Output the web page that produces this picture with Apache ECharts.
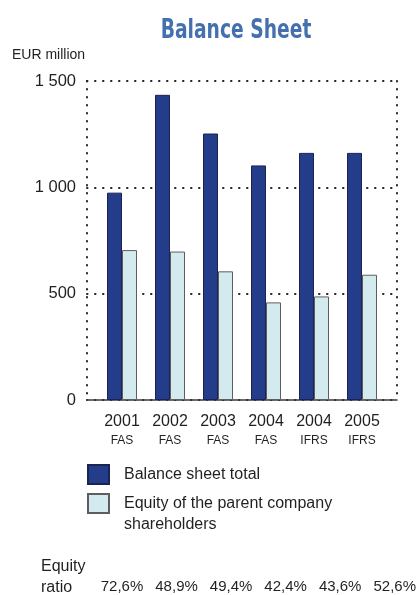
<!DOCTYPE html>
<html>
<head>
<meta charset="utf-8">
<script src="https://cdn.jsdelivr.net/npm/echarts@6/dist/echarts.min.js"></script>
<style>
  html, body { margin: 0; padding: 0; background: #fff; }
  #chart { width: 419px; height: 595px; }
</style>
</head>
<body>
<div id="chart"></div>
<script>
// Balance sheet figures, EUR million
const years = ['2001', '2002', '2003', '2004', '2004', '2005'];
const standards = ['FAS', 'FAS', 'FAS', 'FAS', 'IFRS', 'IFRS'];
const balanceTotal = [975, 1435, 1253, 1103, 1162, 1162];
const parentEquity = [705, 698, 605, 459, 487, 589];
const equityRatio = ['72,6%', '48,9%', '49,4%', '42,4%', '43,6%', '52,6%'];
const yMin = 0, yMax = 1500, yStep = 500;

const FONT = '"Liberation Sans", Arial, sans-serif';
const TEXT = '#231f20';
const categories = years.map((y, i) => y + ' ' + standards[i]);

const dotted = { color: '#222', width: 2, type: [0.5, 7.5], cap: 'round' };
const thousands = v => String(v).replace(/\B(?=(\d{3})+(?!\d))/g, ' ');

const chart = echarts.init(document.getElementById('chart'), null, { renderer: 'canvas' });

chart.setOption({
  animation: false,
  backgroundColor: '#fff',
  textStyle: { fontFamily: FONT },
  title: [
    {
      text: 'EUR million', left: 12, top: 48, padding: 0,
      textStyle: { fontFamily: FONT, fontWeight: 'normal', fontSize: 14, color: TEXT }
    },
    {
      text: 'Equity\nratio', left: 41, top: 556, padding: 0,
      textStyle: { fontFamily: FONT, fontWeight: 'normal', fontSize: 16, lineHeight: 21, color: TEXT }
    }
  ],
  // heading set in a condensed bold face
  graphic: [
    {
      type: 'text', x: 236, y: 31, scaleX: 0.8, originX: 0, originY: 0,
      style: {
        text: 'Balance Sheet', align: 'center', verticalAlign: 'middle',
        font: 'bold 26px "DejaVu Sans Condensed", "DejaVu Sans", sans-serif',
        fill: '#4470b0'
      }
    }
  ],
  legend: [
    {
      data: ['Balance sheet total'],
      left: 87, top: 464, padding: 0, orient: 'vertical',
      itemWidth: 21, itemHeight: 19, icon: 'rect',
      textStyle: { fontFamily: FONT, fontSize: 16, color: TEXT, padding: [0, 0, 0, 10] }
    },
    {
      data: ['Equity of the parent company shareholders'],
      left: 87, top: 472, padding: 0, orient: 'vertical',
      itemWidth: 21, itemHeight: 19, icon: 'rect',
      formatter: () => '\nEquity of the parent company\nshareholders',
      textStyle: { fontFamily: FONT, fontSize: 16, lineHeight: 21, color: TEXT, padding: [0, 0, 0, 10] }
    }
  ],
  grid: [
    // frame with dotted grid lines and the value scale
    { left: 87, right: 22, top: 81, bottom: 195 },
    // bars
    { left: 98, right: 33, top: 81, bottom: 195 },
    // equity ratio row
    { left: 122, right: 23, top: 570, height: 1 }
  ],
  xAxis: [
    {
      type: 'value', gridIndex: 0, min: 0, max: 1, interval: 1,
      axisLabel: { show: false }, axisTick: { show: false },
      axisLine: { show: true, onZero: false, lineStyle: { color: '#3a3a3a', width: 1.6 } },
      splitLine: { show: true, lineStyle: dotted }
    },
    {
      type: 'category', gridIndex: 1, data: categories,
      axisLine: { show: false }, axisTick: { show: false },
      axisLabel: {
        margin: 12, interval: 0,
        formatter: (v, i) => '{y|' + years[i] + '}\n{s|' + standards[i] + '}',
        rich: {
          y: { fontFamily: FONT, fontSize: 16, lineHeight: 20, color: TEXT },
          s: { fontFamily: FONT, fontSize: 12, lineHeight: 18, color: TEXT }
        }
      }
    },
    {
      type: 'category', gridIndex: 2, data: equityRatio, boundaryGap: false,
      axisLine: { show: false }, axisTick: { show: false },
      axisLabel: { margin: 8, interval: 0, fontFamily: FONT, fontSize: 15, color: TEXT }
    }
  ],
  yAxis: [
    {
      type: 'value', gridIndex: 0, min: yMin, max: yMax, interval: yStep,
      axisLine: { show: false }, axisTick: { show: false },
      axisLabel: { margin: 11, fontFamily: FONT, fontSize: 16.5, color: TEXT, formatter: thousands },
      splitLine: { show: true, lineStyle: dotted }
    },
    { type: 'value', gridIndex: 1, min: yMin, max: yMax, interval: yStep, show: false },
    { type: 'value', gridIndex: 2, show: false }
  ],
  series: [
    {
      name: 'Balance sheet total', type: 'bar', xAxisIndex: 1, yAxisIndex: 1,
      data: balanceTotal, barWidth: 15, barGap: '0%',
      itemStyle: { color: '#243d8b', borderColor: '#1b2450', borderWidth: 1 }
    },
    {
      name: 'Equity of the parent company shareholders', type: 'bar', xAxisIndex: 1, yAxisIndex: 1,
      data: parentEquity, barWidth: 15, barGap: '0%',
      itemStyle: { color: '#d3eaee', borderColor: '#5e5e5e', borderWidth: 1 }
    }
  ]
});
</script>
</body>
</html>
